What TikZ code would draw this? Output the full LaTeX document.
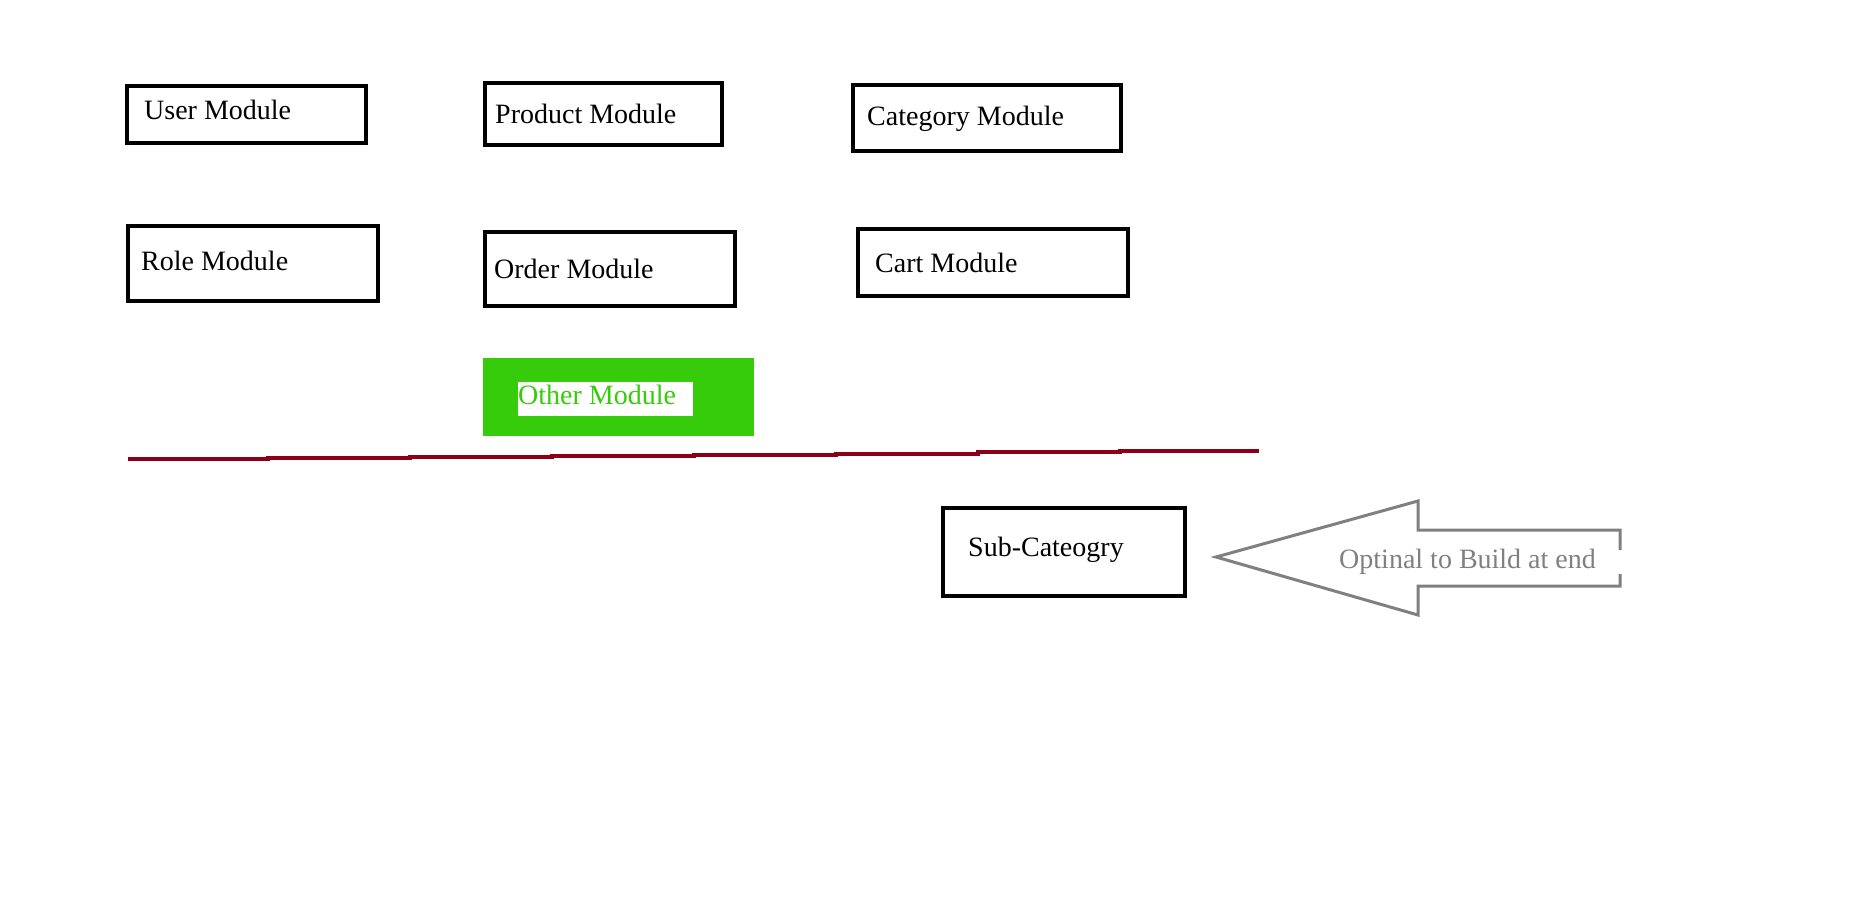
\documentclass[tikz,border=0pt]{standalone}
\usepackage{fontspec}
\setmainfont{Liberation Serif}
\definecolor{boxred}{HTML}{8B0016}
\definecolor{othergreen}{HTML}{36CB0B}
\definecolor{arrowgray}{HTML}{808080}
\tikzset{
  modbox/.style={draw=black, line width=4pt, anchor=north west, inner sep=0pt},
  modtext/.style={anchor=base west, inner sep=0pt, font=\fontsize{28}{32}\selectfont},
}
\begin{document}
\begin{tikzpicture}[x=1pt,y=-1pt]
\useasboundingbox (0,0) rectangle (1870,904);
% boxes
\node[modbox, minimum width=239pt, minimum height=57pt] (user) at (125,84) {};
\node[modbox, minimum width=237pt, minimum height=62pt] (product) at (483,81) {};
\node[modbox, minimum width=268pt, minimum height=66pt] (category) at (851,83) {};
\node[modbox, minimum width=250pt, minimum height=75pt] (role) at (126,224) {};
\node[modbox, minimum width=250pt, minimum height=74pt] (order) at (483,230) {};
\node[modbox, minimum width=270pt, minimum height=67pt] (cart) at (856,227) {};
\node[modbox, minimum width=242pt, minimum height=88pt] (sub) at (941,506) {};
% texts
\node[modtext] (usert) at (144,120) {User Module};
\node[modtext] (productt) at (495,124) {Product Module};
\node[modtext] (categoryt) at (867,126) {Category Module};
\node[modtext] (rolet) at (141,270) {Role Module};
\node[modtext] (ordert) at (494,278) {Order Module};
\node[modtext] (cartt) at (875,272) {Cart Module};
\node[modtext] (subt) at (968,556) {Sub-Cateogry};
% other module
\node[fill=othergreen, anchor=north west, minimum width=271pt, minimum height=78pt, inner sep=0pt] (other) at (483,358) {};
\node[fill=white, anchor=north west, minimum width=175pt, minimum height=34pt, inner sep=0pt] (otherw) at (518,382) {};
\node[modtext, text=othergreen] (othert) at (518,404) {Other Module};
% red separator line (slightly stepped)
\draw[boxred, line width=4pt]
  (128,459) -- (268,459) -- (268,458) -- (410,458) -- (410,457) -- (552,457) -- (552,456)
  -- (694,456) -- (694,455) -- (836,455) -- (836,454) -- (978,454) -- (978,452)
  -- (1120,452) -- (1120,451) -- (1259,451);
% arrow
\draw[arrowgray, line width=3pt, line join=miter]
  (1620,550) -- (1620,530) -- (1418,530) -- (1418,501) -- (1216,557)
  -- (1418,615) -- (1418,586) -- (1620,586) -- (1620,574);
\node[modtext, text=arrowgray] (optt) at (1339,568) {Optinal to Build at end};
\end{tikzpicture}
\end{document}
